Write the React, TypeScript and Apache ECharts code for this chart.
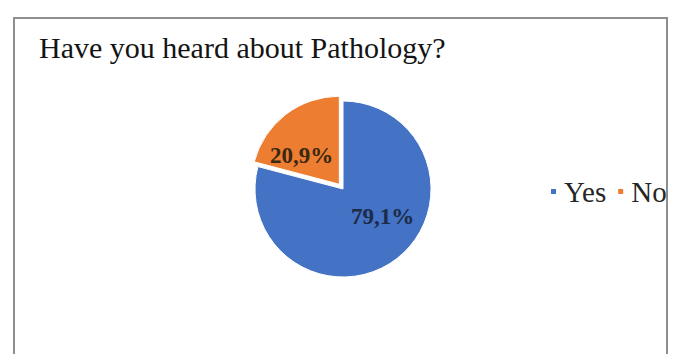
import React, { useEffect, useRef } from "react";
import * as echarts from "echarts";

const titleText = "Have you heard about Pathology?";
const categories = ["Yes", "No"];
const shares = [79.1, 20.9];
const colors = ["#4472C4", "#ED7D31"];
const labelColors = ["#1b2b48", "#3a2812"];
// label nudges (px) so the percentages sit where the layout wants them
const labelNudge = [
  [11, -10],
  [-9, 8],
];

export default function App() {
  const ref = useRef<HTMLDivElement>(null);

  useEffect(() => {
    if (!ref.current) return;
    const chart = echarts.init(ref.current, null, { renderer: "svg" });
    const serif = "'Liberation Serif', 'Times New Roman', serif";

    chart.setOption({
      animation: false,
      backgroundColor: "#ffffff",
      title: {
        text: titleText,
        left: 39,
        top: 32,
        padding: 0,
        textStyle: {
          fontFamily: serif,
          fontSize: 30,
          fontWeight: "normal",
          color: "#141414",
        },
      },
      legend: {
        data: categories,
        orient: "horizontal",
        left: 549,
        top: 177,
        padding: 0,
        itemWidth: 7,
        itemHeight: 7,
        itemGap: 10,
        icon: "rect",
        selectedMode: false,
        textStyle: {
          fontFamily: serif,
          fontSize: 29,
          color: "#262626",
          padding: [0, 0, 0, 2],
        },
      },
      graphic: [
        {
          type: "rect",
          z: 100,
          silent: true,
          shape: { x: 14, y: 18, width: 653, height: 360 },
          style: { fill: "none", stroke: "#8e8e8e", lineWidth: 2 },
        },
      ],
      series: [
        {
          type: "pie",
          center: [343, 189],
          radius: [0, 88],
          startAngle: 90,
          clockwise: true,
          selectedMode: "single",
          selectedOffset: 6,
          avoidLabelOverlap: false,
          emphasis: { disabled: true },
          itemStyle: { borderColor: "#ffffff", borderWidth: 1 },
          label: {
            show: true,
            position: "inside",
            formatter: (p: any) =>
              p.value.toFixed(1).replace(".", ",") + "%",
            fontFamily: serif,
            fontSize: 23,
            fontWeight: "bold",
          },
          labelLine: { show: false },
          labelLayout: (p: any) => ({
            dx: labelNudge[p.dataIndex][0],
            dy: labelNudge[p.dataIndex][1],
          }),
          data: categories.map((name, i) => ({
            name,
            value: shares[i],
            selected: i === 1,
            itemStyle: { color: colors[i] },
            select: { itemStyle: { color: colors[i] } },
            label: { color: labelColors[i] },
          })),
        },
      ],
    });

    return () => chart.dispose();
  }, []);

  return (
    <div
      ref={ref}
      style={{
        position: "absolute",
        left: 0,
        top: 0,
        width: 673,
        height: 354,
        background: "#ffffff",
      }}
    />
  );
}
